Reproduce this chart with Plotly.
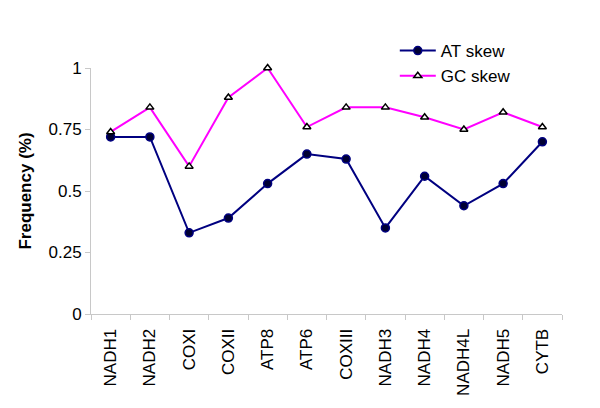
import plotly.graph_objects as go

genes = ["NADH1", "NADH2", "COXI", "COXII", "ATP8", "ATP6", "COXIII",
         "NADH3", "NADH4", "NADH4L", "NADH5", "CYTB"]
at_skew = [0.72, 0.72, 0.33, 0.39, 0.53, 0.65, 0.63, 0.35, 0.56, 0.44, 0.53, 0.70]
gc_skew = [0.74, 0.84, 0.60, 0.88, 1.00, 0.76, 0.84, 0.84, 0.80, 0.75, 0.82, 0.76]
y_ticks = [0, 0.25, 0.5, 0.75, 1]
y_ticklabels = ["0", "0.25", "0.5", "0.75", "1"]

fig = go.Figure()
fig.add_trace(go.Scatter(
    x=genes, y=at_skew, name="AT skew", mode="lines+markers",
    line=dict(color="#000080", width=2),
    marker=dict(symbol="circle", size=8, color="#000033",
                line=dict(color="#000080", width=1.5)),
    cliponaxis=False,
))
fig.add_trace(go.Scatter(
    x=genes, y=gc_skew, name="GC skew", mode="lines+markers",
    line=dict(color="#FF00FF", width=2),
    marker=dict(symbol="triangle-up", size=7, color="white",
                line=dict(color="black", width=1.5)),
    cliponaxis=False,
))

fig.update_layout(
    width=584, height=392,
    margin=dict(l=83, r=30, t=60, b=86, autoexpand=False),
    paper_bgcolor="white", plot_bgcolor="white",
    font=dict(family="Liberation Sans, Arial, sans-serif", size=17, color="black"),
    showlegend=True,
    legend=dict(x=0.645, y=1.142, xanchor="left", yanchor="top",
                bgcolor="rgba(0,0,0,0)", font=dict(size=17),
                itemwidth=36, tracegroupgap=0),
    xaxis=dict(
        type="category", tickangle=-90, tickfont=dict(size=17),
        ticklabelstandoff=7,
        showline=True, linecolor="#C8C8C8", linewidth=1,
        ticks="outside", tickson="boundaries", ticklen=5, tickcolor="#C8C8C8",
        showgrid=False, zeroline=False, range=[-0.5, 11.5], automargin=False,
    ),
    yaxis=dict(
        range=[0, 1], tickvals=y_ticks, ticktext=y_ticklabels,
        tickfont=dict(size=17),
        title=dict(text="<b>Frequency (%)</b>", font=dict(size=17), standoff=12),
        showline=True, linecolor="#C8C8C8", linewidth=1,
        ticks="outside", ticklen=5, tickcolor="#C8C8C8",
        showgrid=False, zeroline=False, automargin=False,
    ),
)

fig.write_html("out.html")
